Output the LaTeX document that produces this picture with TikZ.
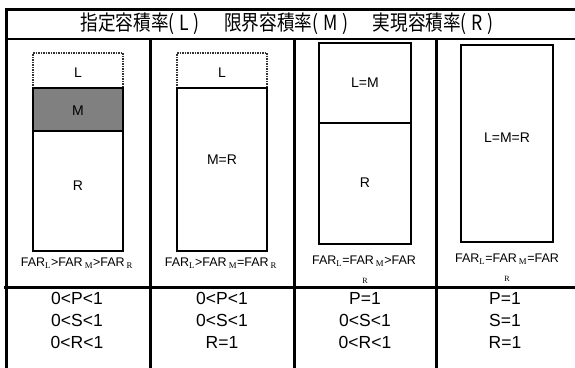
\documentclass[tikz,border=0pt]{standalone}
\usepackage{fontspec}
\usepackage{graphicx}
\setmainfont{Liberation Sans}
\newfontfamily\serifR{Liberation Serif}
\newfontfamily\cjk{Noto Sans CJK JP}
\newcommand\fsub[1]{\textsubscript{\serifR #1}}
\newcommand\tpar[1]{(\hspace{5.5pt}#1\hspace{5.5pt})}
\definecolor{midgray}{RGB}{128,128,128}
\tikzset{
  frameline/.style={line width=3pt, line cap=rect},
  boxline/.style={line width=1.8pt},
  dashline/.style={line width=1.2pt, dash pattern=on 1.5pt off 1pt, black!80},
  lbl/.style={inner sep=0pt, font=\fontsize{14}{16}\selectfont},
  farlbl/.style={inner sep=0pt, font=\fontsize{12.5}{14}\selectfont},
  rsub/.style={inner sep=0pt, font=\fontsize{8}{9}\serifR},
  rowtxt/.style={inner sep=0pt, font=\fontsize{17.5}{20}\selectfont},
}
\begin{document}
\begin{tikzpicture}[x=1pt,y=-1pt]
\useasboundingbox (0,0) rectangle (575,367);
% frame
\draw[frameline] (6.5,9.5) -- (575,9.5);
\draw[frameline] (6.5,9.5) -- (6.5,368);
\draw[line width=2.6pt] (5,39) -- (575,39);
\draw[frameline] (5,287) -- (575,287);
\draw[frameline] (150.5,39) -- (150.5,368);
\draw[frameline] (294,39) -- (294,368);
\draw[frameline] (436,39) -- (436,368);
% title
\node[inner sep=0pt, font=\cjk\fontsize{21}{23}\selectfont] (title) at (287,23.5)
  {\scalebox{0.84}[1]{指定容積率\tpar{L}\hspace{1.4em}限界容積率\tpar{M}\hspace{1.4em}実現容積率\tpar{R}}};
% column 1
\draw[dashline] (33,88) -- (33,53) -- (123,53) -- (123,88);
\draw[boxline, fill=midgray] (33,88) rectangle (123,131);
\draw[boxline] (33,131) rectangle (123,251);
\node[lbl] (l1) at (78,73) {L};
\node[lbl] (m1) at (78,111) {M};
\node[lbl] (r1) at (78,186) {R};
\node[farlbl] (far1) at (77,263) {FAR\fsub{L}>FAR\,\fsub{M}>FAR\,\fsub{R}};
% column 2
\draw[dashline] (177,88) -- (177,53) -- (267,53) -- (267,88);
\draw[boxline] (177,88) rectangle (267,251);
\node[lbl] (l2) at (222,73) {L};
\node[lbl] (mr2) at (222,160) {M=R};
\node[farlbl] (far2) at (221,263) {FAR\fsub{L}>FAR\,\fsub{M}=FAR\,\fsub{R}};
% column 3
\draw[boxline] (319,43) rectangle (411,244);
\draw[boxline] (319,123) -- (411,123);
\node[lbl] (lm3) at (365,83) {L=M};
\node[lbl] (r3) at (365,183) {R};
\node[farlbl] (far3) at (364,261) {FAR\fsub{L}=FAR\,\fsub{M}>FAR};
\node[rsub] (far3r) at (365,281) {R};
% column 4
\draw[boxline] (461,45) rectangle (553,242);
\node[lbl] (lmr4) at (507,138) {L=M=R};
\node[farlbl] (far4) at (507,259) {FAR\fsub{L}=FAR\,\fsub{M}=FAR};
\node[rsub] (far4r) at (507,279) {R};
% bottom rows
\node[rowtxt] (p1) at (77,298) {0<P<1};
\node[rowtxt] (s1) at (77,320) {0<S<1};
\node[rowtxt] (q1) at (77,342) {0<R<1};
\node[rowtxt] (p2) at (222,298) {0<P<1};
\node[rowtxt] (s2) at (222,320) {0<S<1};
\node[rowtxt] (q2) at (222,342) {R=1};
\node[rowtxt] (p3) at (365,298) {P=1};
\node[rowtxt] (s3) at (365,320) {0<S<1};
\node[rowtxt] (q3) at (365,342) {0<R<1};
\node[rowtxt] (p4) at (505,298) {P=1};
\node[rowtxt] (s4) at (505,320) {S=1};
\node[rowtxt] (q4) at (505,342) {R=1};
\end{tikzpicture}
\end{document}
